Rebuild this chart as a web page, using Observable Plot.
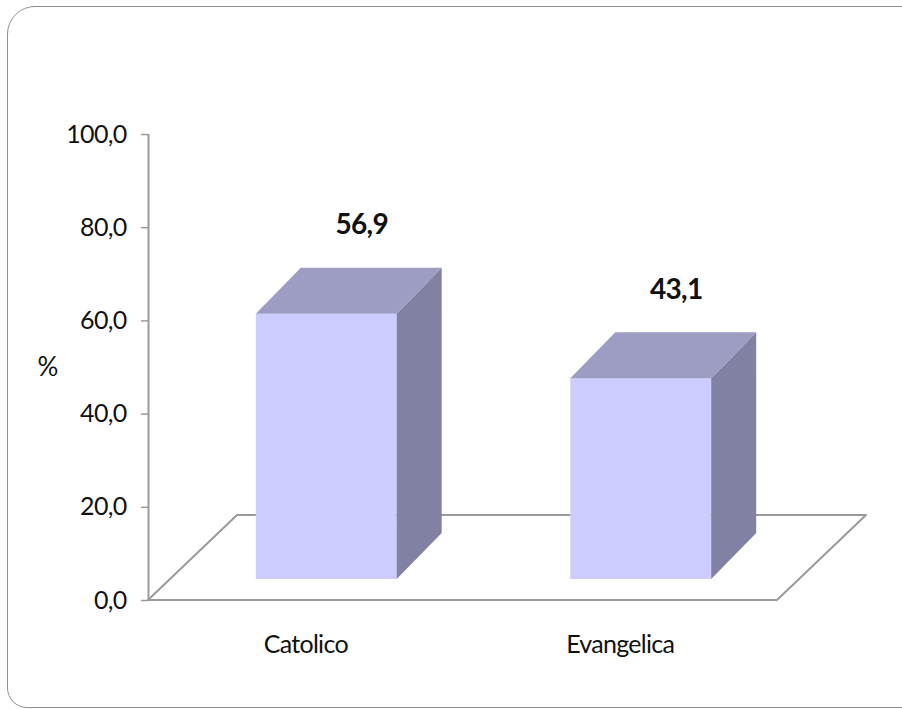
<!DOCTYPE html>
<html>
<head>
<meta charset="utf-8">
<script src="https://cdn.jsdelivr.net/npm/d3@7"></script>
<script src="https://cdn.jsdelivr.net/npm/@observablehq/plot@0.6"></script>
<style>
  html, body { margin: 0; padding: 0; background: #fff; overflow: hidden; }
  #chart { position: absolute; left: 0; top: 0; width: 902px; height: 709px; }
  #chart svg text { letter-spacing: -0.7px; }
  #panel {
    position: absolute; left: 7px; top: 6px; width: 912px; height: 702px;
    box-sizing: border-box; border: 1.5px solid #8f8f8f;
    border-radius: 28px 16px 16px 20px; pointer-events: none; z-index: 2;
  }
</style>
</head>
<body>
<div id="chart"></div>
<div id="panel"></div>
<script>
// Religious affiliation, share of respondents (%)
const categories = ["Catolico", "Evangelica"];
const percentages = [56.9, 43.1];
const yTicks = [0, 20, 40, 60, 80, 100];
const yLabel = "%";

const rows = categories.map((category, i) => ({category, value: percentages[i], pos: i + 0.5}));

// 3D look: pixel offsets for the floor depth, the bar's front plane and the bar depth
const FLOOR = [89, -85];
const FRONT = [21, -21];
const DEPTH = [45, -46];
const HALF = 0.224; // half bar width, in category units

const FACE = "#ccccff", TOP = "#9d9dc3", SIDE = "#8181a3", LINE = "#9a9a9a";
const FONT = "Lato, 'Open Sans', sans-serif";

const fmt = v => v.toFixed(1).replace(".", ",");

// floor of the 3D box
function floor(index, scales) {
  const x0 = scales.x(0), x1 = scales.x(categories.length), y0 = scales.y(0);
  const [fx, fy] = FLOOR;
  return d3.create("svg:path")
    .attr("d", `M${x0},${y0}L${x1},${y0}L${x1 + fx},${y0 + fy}L${x0 + fx},${y0 + fy}Z`)
    .attr("fill", "white")
    .attr("stroke", LINE)
    .attr("stroke-width", 2)
    .attr("stroke-linejoin", "round")
    .node();
}

// top and right faces of each bar
function prismFaces(index, scales) {
  const g = d3.create("svg:g");
  const [ddx, ddy] = DEPTH;
  for (const d of rows) {
    const xl = scales.x(d.pos - HALF) + FRONT[0];
    const xr = scales.x(d.pos + HALF) + FRONT[0];
    const yb = scales.y(0) + FRONT[1];
    const yt = scales.y(d.value) + FRONT[1];
    g.append("path")
      .attr("d", `M${xr},${yb}L${xr + ddx},${yb + ddy}L${xr + ddx},${yt + ddy}L${xr},${yt}Z`)
      .attr("fill", SIDE);
    g.append("path")
      .attr("d", `M${xl},${yt}L${xr},${yt}L${xr + ddx},${yt + ddy}L${xl + ddx},${yt + ddy}Z`)
      .attr("fill", TOP);
  }
  return g.node();
}

const chart = Plot.plot({
  width: 902,
  height: 709,
  marginLeft: 148,
  marginRight: 125,
  marginTop: 134,
  marginBottom: 109,
  style: {fontFamily: FONT, background: "white"},
  x: {domain: [0, categories.length], label: null},
  y: {domain: [0, 100], label: null},
  marks: [
    floor,
    Plot.ruleX([0], {y1: 0, y2: 100, stroke: LINE, strokeWidth: 2}),
    Plot.axisY({
      ticks: yTicks, tickFormat: fmt, tickSize: 7, tickPadding: 15,
      fontSize: 25, stroke: LINE, strokeWidth: 1.5, fill: "#111", label: null
    }),
    Plot.axisX({
      ticks: rows.map(d => d.pos), tickFormat: p => categories[Math.floor(p)],
      tickSize: 0, tickPadding: 35, fontSize: 25, fill: "#111", label: null
    }),
    Plot.rect(rows, {
      x1: d => d.pos - HALF, x2: d => d.pos + HALF, y1: 0, y2: "value",
      dx: FRONT[0], dy: FRONT[1], fill: FACE
    }),
    prismFaces,
    Plot.text(rows, {
      x: "pos", y: "value", text: d => fmt(d.value),
      dx: 56, dy: -110, fontSize: 28, fontWeight: "bold", fill: "#111"
    }),
    Plot.text([yLabel], {
      text: d => d, frameAnchor: "left", textAnchor: "middle",
      dx: -101, fontSize: 26, fill: "#111"
    })
  ]
});

document.getElementById("chart").append(chart);
</script>
</body>
</html>
